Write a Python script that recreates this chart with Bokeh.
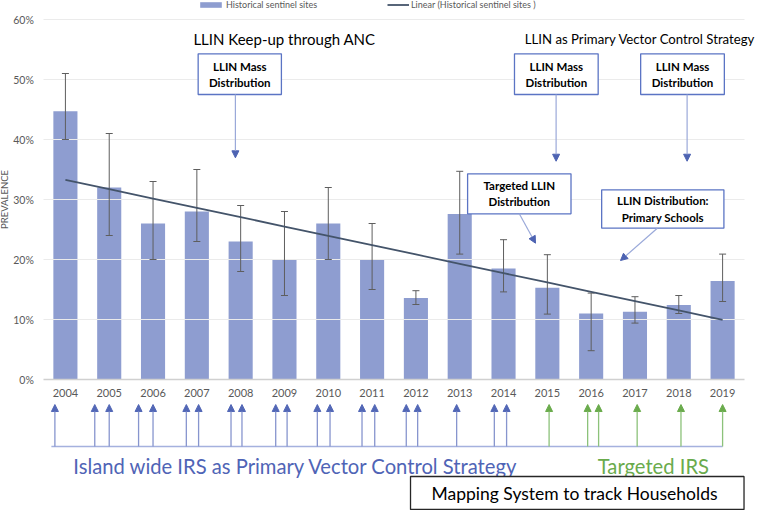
import numpy as np
from bokeh.plotting import figure
from bokeh.models import (Range1d, Legend, LegendItem, Arrow, NormalHead, ColumnDataSource)
from bokeh.core.properties import value
from bokeh.embed import file_html
from bokeh.resources import INLINE

# ---------------- data ----------------
years = list(range(2004, 2020))
year_labels = [str(y) for y in years]
prevalence = [0.447, 0.32, 0.26, 0.28, 0.23, 0.20, 0.26, 0.20,
              0.136, 0.276, 0.185, 0.153, 0.110, 0.113, 0.124, 0.164]
ci_upper = [0.51, 0.41, 0.33, 0.35, 0.29, 0.28, 0.32, 0.26,
            0.148, 0.347, 0.233, 0.208, 0.144, 0.138, 0.140, 0.209]
ci_lower = [0.40, 0.24, 0.20, 0.23, 0.18, 0.14, 0.20, 0.15,
            0.125, 0.209, 0.146, 0.109, 0.048, 0.094, 0.110, 0.130]
y_ticks = [0.0, 0.1, 0.2, 0.3, 0.4, 0.5, 0.6]
y_tick_labels = ["0%", "10%", "20%", "30%", "40%", "50%", "60%"]

# IRS spray rounds (time, in years)
irs_island_rounds = [2003.76, 2004.67, 2005.00, 2005.67, 2006.00, 2006.76, 2007.04,
                     2007.78, 2008.03, 2008.80, 2009.06, 2009.75, 2010.04, 2010.77,
                     2011.06, 2011.78, 2012.04, 2012.93, 2013.79, 2014.07]
irs_targeted_rounds = [2015.04, 2015.92, 2016.17, 2017.05, 2018.05, 2019.00]

box_texts = ["LLIN Mass\nDistribution", "LLIN Mass\nDistribution", "LLIN Mass\nDistribution",
             "Targeted LLIN\nDistribution", "LLIN Distribution:\nPrimary Schools"]

# ---------------- style ----------------
FONT = "Lato"
GREY = "#595959"
BAR = "#8E9DD0"
BOX_LINE = "#5B74C4"
BLUE_TXT = "#4F64B6"
GREEN_TXT = "#6AAB4C"
W, H = 757, 510
PX = 43.8125                      # pixels per year
X_LO = years[0] - 0.5
X_HI = years[-1] + 0.5
LEFT = 43                         # pixel position of X_LO

p = figure(width=W, height=H,
           x_range=Range1d(X_LO - LEFT / PX, X_LO + (W - LEFT) / PX),
           y_range=Range1d(-(H - 379) / 600, 379 / 600),
           x_axis_location=None, y_axis_location=None,
           min_border_left=0, min_border_right=0, min_border_top=0, min_border_bottom=0,
           output_backend="svg", toolbar_location=None)
p.outline_line_color = None
p.grid.visible = False
p.background_fill_color = "white"

# bars
r_bars = p.vbar(x=years, top=prevalence, bottom=0, width=0.55,
                fill_color=BAR, line_color=None)
# gridlines (drawn over bars, like the original) and the category axis line
p.segment(x0=X_LO, x1=X_HI, y0=y_ticks[1:], y1=y_ticks[1:], line_color="#EBEBEB", line_width=1)
p.segment(x0=X_LO, x1=X_HI, y0=[0.0], y1=[0.0], line_color="#D0D0D0", line_width=1.5)

# y tick labels and title
p.text(x=X_LO - 9.7 / PX, y=y_ticks, text=y_tick_labels, text_align="right",
       text_baseline="middle", text_font=value(FONT), text_font_size=value("10.5px"),
       text_color=GREY)
p.text(x=[X_LO - 39.3 / PX], y=[0.30], text=["PREVALENCE"], angle=np.pi / 2,
       text_align="center", text_baseline="middle", text_font=value(FONT),
       text_font_size=value("9.5px"), text_color=GREY)

# error bars
p.segment(x0=years, y0=ci_lower, x1=years, y1=ci_upper, line_color="#5E5E5E", line_width=1)
p.dash(x=years + years, y=ci_upper + ci_lower, size=7, line_color="#5E5E5E", line_width=1)

# linear trend of the series
coef = np.polyfit(years, prevalence, 1)
trend = np.polyval(coef, years)
r_trend = p.line(years, trend, line_color="#44546A", line_width=1.8)

# year labels
p.text(x=years, y=-0.023, text=year_labels, text_align="center", text_baseline="middle",
       text_font=value(FONT), text_font_size=value("11px"), text_color=GREY)

# legends
leg1 = Legend(items=[LegendItem(label="Historical sentinel sites", renderers=[r_bars])],
              location=(197, 500), orientation="horizontal", glyph_width=27, glyph_height=7,
              label_height=10, label_standoff=2, padding=0, margin=0, border_line_color=None,
              background_fill_alpha=0, label_text_font=FONT, label_text_font_size="9px",
              label_text_color=GREY)
leg2 = Legend(items=[LegendItem(label="Linear (Historical sentinel sites )", renderers=[r_trend])],
              location=(387, 500), orientation="horizontal", glyph_width=22, glyph_height=7,
              label_height=10, label_standoff=2, padding=0, margin=0, border_line_color=None,
              background_fill_alpha=0, label_text_font=FONT, label_text_font_size="9px",
              label_text_color=GREY)
p.add_layout(leg1)
p.add_layout(leg2)

# headings
p.text(x=[2009.0], y=[0.5683], text=["LLIN Keep-up through ANC"], text_align="center",
       text_baseline="middle", text_font=value(FONT), text_font_size=value("15px"),
       text_color="black")
p.text(x=[2019.75], y=[0.5667], text=["LLIN as Primary Vector Control Strategy"],
       text_align="right", text_baseline="middle", text_font=value(FONT),
       text_font_size=value("13.2px"), text_color="black")

# annotation boxes
bl = [2007.03, 2014.25, 2017.13, 2013.18, 2016.24]
br = [2008.93, 2016.16, 2019.04, 2015.54, 2019.03]
bt = [0.5428, 0.5428, 0.5428, 0.3428, 0.3162]
bb = [0.475, 0.475, 0.475, 0.2762, 0.2522]
p.quad(left=bl, right=br, top=bt, bottom=bb, fill_color="white", line_color=BOX_LINE,
       line_width=1.3)
p.text(x=[(a + b) / 2 for a, b in zip(bl, br)], y=[(a + b) / 2 for a, b in zip(bt, bb)],
       text=box_texts, text_align="center", text_baseline="middle", text_font=value(FONT),
       text_font_style="bold", text_font_size=value("11.5px"), text_line_height=1.25,
       text_color="black")

ann_src = ColumnDataSource(dict(
    xs=[2007.88, 2015.20, 2018.19, 2014.36, 2017.51],
    ys=[0.475, 0.475, 0.475, 0.2762, 0.2522],
    xe=[2007.88, 2015.20, 2018.19, 2014.73, 2016.67],
    ye=[0.3695, 0.3638, 0.3638, 0.2272, 0.1983]))
p.add_layout(Arrow(source=ann_src, x_start="xs", y_start="ys", x_end="xe", y_end="ye",
                   line_color="#9AA9D9", line_width=1.2,
                   end=NormalHead(size=7, fill_color="#4D63B2", line_color="#4D63B2")))

# IRS spray rounds
BASE, TIP = -0.1117, -0.0417
p.segment(x0=[min(irs_island_rounds) - 0.08], y0=[BASE], x1=[max(irs_targeted_rounds)], y1=[BASE],
          line_color="#A5B1DE", line_width=1.5)
isl = ColumnDataSource(dict(x=irs_island_rounds))
tgt = ColumnDataSource(dict(x=irs_targeted_rounds))
p.add_layout(Arrow(source=isl, x_start="x", y_start=BASE, x_end="x", y_end=TIP,
                   line_color="#8795CE", line_width=1.3,
                   end=NormalHead(size=7, fill_color="#5267B6", line_color="#5267B6")))
p.add_layout(Arrow(source=tgt, x_start="x", y_start=BASE, x_end="x", y_end=TIP,
                   line_color="#8CC27A", line_width=1.3,
                   end=NormalHead(size=7, fill_color="#6AAB4C", line_color="#6AAB4C")))

p.text(x=[2009.26], y=[-0.1442], text=["Island wide IRS as Primary Vector Control Strategy"],
       text_align="center", text_baseline="middle", text_font=value(FONT),
       text_font_size=value("20.2px"), text_color=BLUE_TXT)
p.text(x=[2017.42], y=[-0.1442], text=["Targeted IRS"], text_align="center",
       text_baseline="middle", text_font=value(FONT), text_font_size=value("20.2px"),
       text_color=GREEN_TXT)

p.quad(left=[2011.877], right=[2019.489], top=[-0.1617], bottom=[-0.2167],
       fill_color="white", line_color="#262626", line_width=1.3)
p.text(x=[2015.62], y=[-0.1892], text=["Mapping System to track Households"],
       text_align="center", text_baseline="middle", text_font=value(FONT),
       text_font_size=value("17.5px"), text_color="black")

open("out.html", "w").write(file_html(p, INLINE))
